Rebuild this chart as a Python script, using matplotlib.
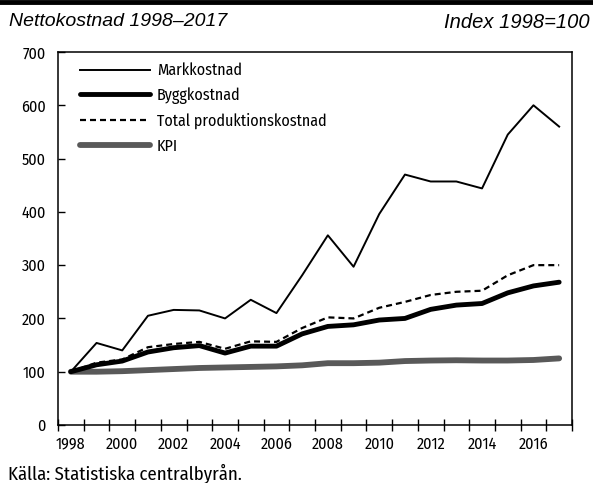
import matplotlib

matplotlib.use("Agg")
import matplotlib.pyplot as plt
from matplotlib.lines import Line2D
import numpy as np

plt.rcParams["font.family"] = ["Fira Sans Condensed", "Archivo Narrow", "DejaVu Sans"]

years = list(range(1998, 2018))
markkostnad = [100, 154, 140, 205, 216, 215, 200, 235, 210, 281, 356,
               297, 396, 470, 457, 457, 444, 545, 600, 560]
byggkostnad = [100, 113, 120, 137, 145, 149, 135, 148, 148, 171, 185,
               188, 197, 200, 217, 225, 228, 248, 261, 268]
total_prod = [100, 117, 123, 146, 152, 156, 143, 157, 156, 182, 202,
              200, 220, 231, 244, 250, 252, 281, 300, 300]
kpi = [100, 100, 101, 103, 105, 107, 108, 109, 110, 112, 116,
       116, 117, 120, 121, 121.5, 121, 121, 122, 125]

title_left = "Nettokostnad 1998–2017"
title_right = "Index 1998=100"
source = "Källa: Statistiska centralbyrån."

FS = 11.5
DASH = (0, (2.7, 1.8))

fig = plt.figure(figsize=(5.93, 4.83), dpi=100)
ax = fig.add_axes([58 / 593, 58 / 483, 514 / 593, 373 / 483])

x = np.arange(len(years))
ax.plot(x, kpi, color="#595959", lw=4.2, solid_capstyle="round", label="KPI", zorder=2)
ax.plot(x, byggkostnad, color="black", lw=3.5, solid_capstyle="round", label="Byggkostnad", zorder=3)
ax.plot(x, total_prod, color="black", lw=1.6, ls=DASH, label="Total produktionskostnad", zorder=4)
ax.plot(x, markkostnad, color="black", lw=1.4, label="Markkostnad", zorder=5)

ax.set_xlim(-0.5, len(years) - 0.5)
ax.set_ylim(0, 700)
ax.set_yticks(range(0, 701, 100))

# category boundaries as cross ticks, year labels at centres
ax.set_xticks(np.arange(-0.5, len(years), 1.0))
ax.set_xticklabels([])
ax.tick_params(axis="x", which="major", direction="inout", length=9, width=1)
ax.set_xticks(x[::2], minor=True)
ax.set_xticklabels([str(y) for y in years[::2]], minor=True)
ax.tick_params(axis="x", which="minor", length=0, pad=8, labelsize=FS)
ax.tick_params(axis="y", direction="in", length=5, width=1, pad=9, labelsize=FS)

for s in ax.spines.values():
    s.set_linewidth(1.1)

handles = [
    Line2D([], [], color="black", lw=1.4),
    Line2D([], [], color="black", lw=3.5, solid_capstyle="round"),
    Line2D([], [], color="black", lw=1.6, ls=DASH),
    Line2D([], [], color="#595959", lw=4.2, solid_capstyle="round"),
]
labels = ["Markkostnad", "Byggkostnad", "Total produktionskostnad", "KPI"]
ax.legend(handles, labels, loc="upper left", bbox_to_anchor=(0.030, 0.989),
          borderaxespad=0, frameon=False, fontsize=FS, handlelength=4.38,
          handletextpad=0.44, labelspacing=0.55)

fig.add_artist(Line2D([0, 1], [0.996, 0.996], color="black", lw=3.5,
                      transform=fig.transFigure))
fig.text(9 / 593, 1 - 22 / 483, title_left, style="italic", fontsize=14,
         family=["Liberation Sans", "DejaVu Sans"], ha="left", va="center")
fig.text(590 / 593, 1 - 22 / 483, title_right, style="italic", fontsize=14.5,
         family=["Liberation Sans", "DejaVu Sans"], ha="right", va="center")
fig.text(8 / 593, 1 - 473 / 483, source, fontsize=13.5, ha="left", va="center")

fig.savefig("out.png", dpi=100)
